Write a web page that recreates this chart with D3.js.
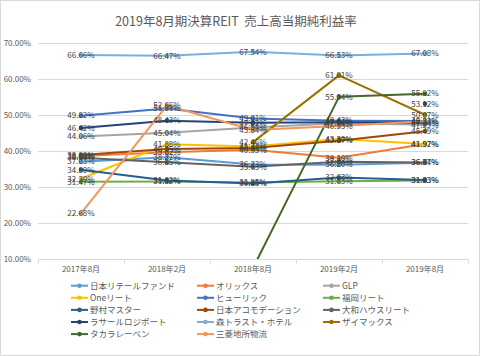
<!DOCTYPE html>
<html><head><meta charset="utf-8">
<script src="https://cdn.jsdelivr.net/npm/d3@7"></script>
<style>
html,body{margin:0;padding:0;background:#fff;}
svg{display:block;font-family:"Noto Sans CJK JP","Noto Sans",sans-serif;}
</style></head>
<body><svg id="chart" width="480" height="356"></svg>
<script>
const categories = ["2017年8月","2018年2月","2018年8月","2019年2月","2019年8月"];
const yTicks = [10,20,30,40,50,60,70];

const nipponRetail  = [37.03, 38.27, 36.23, 36.20, 36.77];
const orix          = [38.62, 39.62, 40.35, 38.10, 41.97];
const glp           = [44.06, 45.04, 46.54, 47.74, 47.29];
const oneReit       = [32.30, 41.88, 41.22, 43.30, 41.92];
const hulic         = [49.82, 51.81, 49.01, 48.43, 48.33];
const fukuoka       = [31.47, 31.52, 31.25, 31.63, 31.83];
const nomura        = [34.80, 31.82, 30.95, 32.63, 31.93];
const accommodation = [38.88, 40.55, 40.85, 42.87, 45.49];
const daiwa         = [38.15, 36.85, 35.63, 37.03, 36.84];
const lasalle       = [46.42, 48.43, 47.82, 47.96, 47.84];
const moriTrust     = [66.66, 66.47, 67.54, 66.53, 67.08];
const xymax         = [null, null, 42.46, 61.01, 50.07];
const takara        = [null, null, 7.50, 55.04, 55.92];
const mitsubishi    = [22.68, 52.66, 45.84, 46.95, 48.24];
const extraPoint    = [null, null, null, null, 53.12];

const seriesNames  = ["日本リテールファンド","オリックス","GLP","Oneリート","ヒューリック","福岡リート","野村マスター","日本アコモデーション","大和ハウスリート","ラサールロジポート","森トラスト・ホテル","ザイマックス","タカラレーベン","三菱地所物流",""];
const seriesValues = [nipponRetail, orix, glp, oneReit, hulic, fukuoka, nomura, accommodation, daiwa, lasalle, moriTrust, xymax, takara, mitsubishi, extraPoint];
const seriesColors = ["#5B9BD5","#ED7D31","#A5A5A5","#FFC000","#4472C4","#70AD47","#255E91","#9E480E","#636363","#264478","#7CAFDD","#997300","#43682B","#F1975A","#264478"];

const series = seriesNames.map((n,i)=>({name:n, values:seriesValues[i], color:seriesColors[i], legend:n!==""}));

const svg = d3.select("#chart");
svg.append("rect").attr("x",0.5).attr("y",0.5).attr("width",479).attr("height",355)
  .attr("fill","#fff").attr("stroke","#D9D9D9");

const pL=38, pR=468, pT=43, pB=259;
const xBand = d3.scaleBand().domain(categories).range([pL,pR]);
const x = d => xBand(d)+xBand.bandwidth()/2;
const y = d3.scaleLinear().domain([10,70]).range([pB,pT]);

svg.append("text").attr("x",236).attr("y",26).attr("text-anchor","middle")
  .attr("font-size",12.5).attr("fill","#595959").text("2019年8月期決算REIT\u00A0\u00A0売上高当期純利益率");

// gridlines
svg.append("g").selectAll("line").data(yTicks.slice(1)).join("line")
  .attr("x1",pL).attr("x2",pR).attr("y1",d=>Math.round(y(d))+0.5).attr("y2",d=>Math.round(y(d))+0.5)
  .attr("stroke","#D9D9D9").attr("stroke-width",1);

// y axis labels
const yAxis = d3.axisLeft(y).tickValues(yTicks).tickFormat(d=>d.toFixed(2)+"%").tickSize(0).tickPadding(7);
const gy = svg.append("g").attr("transform",`translate(${pL},0)`).call(yAxis);
gy.select(".domain").remove();
gy.selectAll("text").attr("font-size",8).attr("fill","#595959").attr("font-family","'Noto Sans CJK JP',sans-serif");

// x axis
const gx = svg.append("g").attr("transform",`translate(0,${Math.round(pB)+0.5})`);
gx.append("line").attr("x1",pL).attr("x2",pR).attr("stroke","#D9D9D9");
gx.selectAll("line.tk").data(categories.concat(["end"])).join("line").attr("class","tk")
  .attr("x1",(d,i)=>Math.round(pL+i*xBand.bandwidth())+0.5).attr("x2",(d,i)=>Math.round(pL+i*xBand.bandwidth())+0.5)
  .attr("y1",0).attr("y2",4).attr("stroke","#D9D9D9");
gx.selectAll("text").data(categories).join("text")
  .attr("x",d=>x(d)).attr("y",12).attr("text-anchor","middle")
  .attr("font-size",8).attr("fill","#595959").text(d=>d);

// clip
svg.append("clipPath").attr("id","plot").append("rect")
  .attr("x",pL).attr("y",pT).attr("width",pR-pL).attr("height",pB-pT);

const line = d3.line().defined(d=>d.v!==null).x(d=>x(d.c)).y(d=>y(d.v));
const plot = svg.append("g").attr("clip-path","url(#plot)");
series.forEach(s=>{
  const pts = categories.map((c,i)=>({c, v:s.values[i]}));
  plot.append("path").datum(pts).attr("d",line).attr("fill","none")
    .attr("stroke",s.color).attr("stroke-width",2).attr("stroke-linejoin","round");
  plot.selectAll(null).data(pts.filter(p=>p.v!==null)).join("circle")
    .attr("cx",p=>x(p.c)).attr("cy",p=>y(p.v)).attr("r",2.3).attr("fill",s.color);
});

// data labels
const lab = svg.append("g");
series.forEach(s=>{
  const pts = categories.map((c,i)=>({c, v:s.values[i]})).filter(p=>p.v!==null && p.v>=10);
  lab.selectAll(null).data(pts).join("text")
    .attr("x",p=>x(p.c)).attr("y",p=>y(p.v)).attr("dy","0.35em").attr("text-anchor","middle")
    .attr("font-size",8).attr("fill","#404040").text(p=>p.v.toFixed(2)+"%");
});

// legend
const legendSeries = series.filter(s=>s.legend);
const colX = [71,197,323];
const rowY0 = 285.7, rowH = 12.1;
const lg = svg.append("g");
legendSeries.forEach((s,i)=>{
  const cx = colX[i%3], cy = rowY0 + Math.floor(i/3)*rowH;
  lg.append("line").attr("x1",cx).attr("x2",cx+17).attr("y1",cy).attr("y2",cy)
    .attr("stroke",s.color).attr("stroke-width",2);
  lg.append("circle").attr("cx",cx+8.5).attr("cy",cy).attr("r",2.3).attr("fill",s.color);
  lg.append("text").attr("x",cx+19).attr("y",cy).attr("dy","0.35em")
    .attr("font-size",8.5).attr("fill","#595959").text(s.name);
});
</script></body></html>
